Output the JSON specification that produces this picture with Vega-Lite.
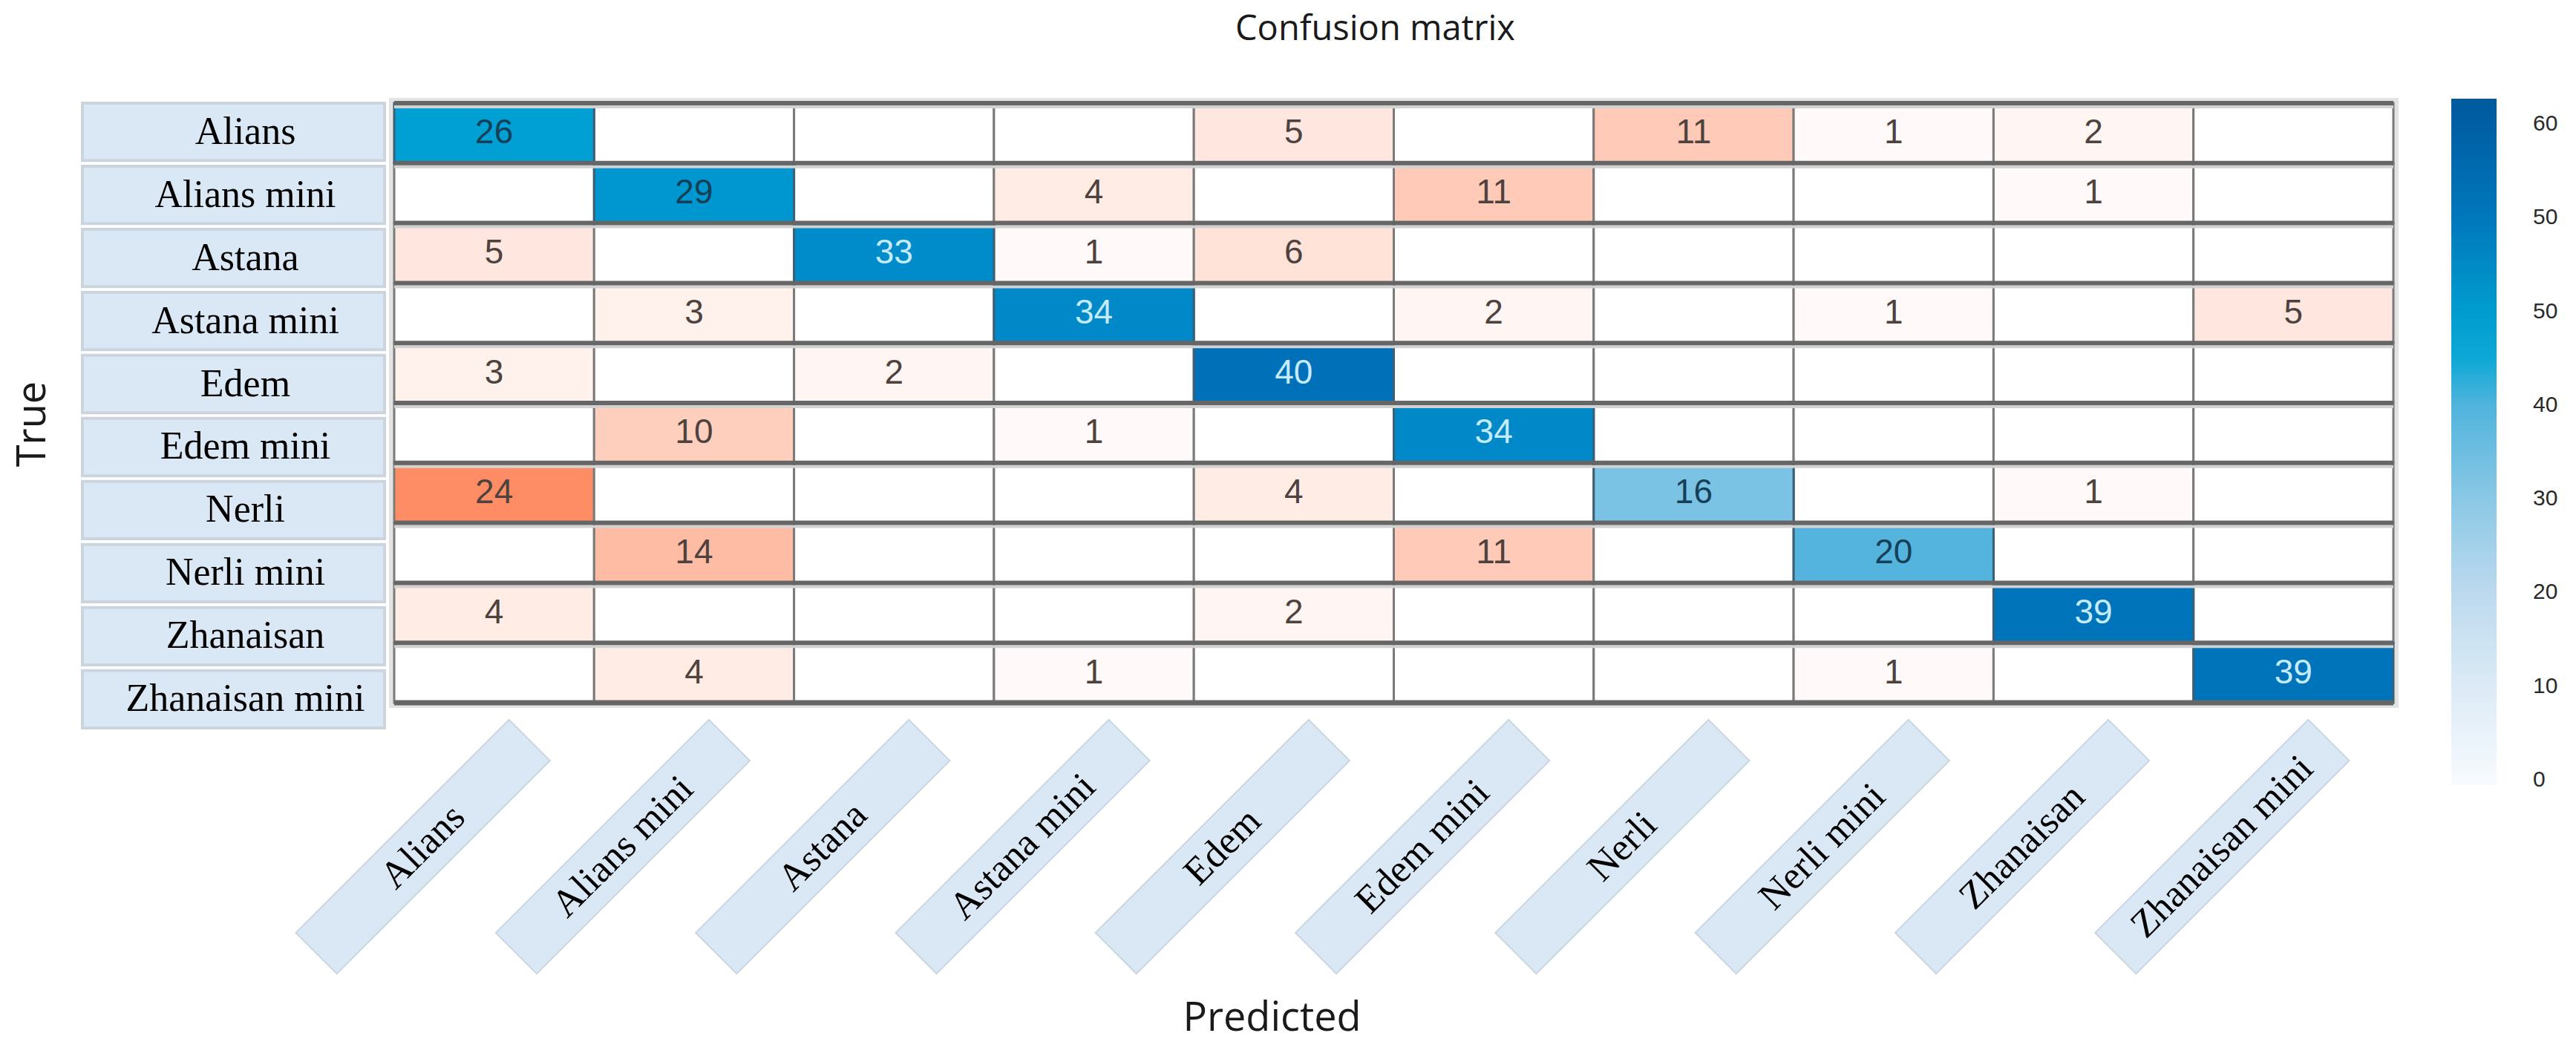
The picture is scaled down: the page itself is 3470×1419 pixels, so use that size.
{
  "$schema": "https://vega.github.io/schema/vega-lite/v6.json",
  "padding": {"left": 17, "top": 16, "right": 0, "bottom": 20},
  "background": "white",
  "title": {"text": "Confusion matrix", "font": "Open Sans", "fontSize": 47, "fontWeight": "normal", "color": "#1a1a1a", "anchor": "start", "frame": "group", "dx": 1553, "offset": 62},
  "config": {"view": {"stroke": null}},
  "datasets": {
    "classes": [
      {"name": "Alians"}, {"name": "Alians mini"}, {"name": "Astana"}, {"name": "Astana mini"}, {"name": "Edem"},
      {"name": "Edem mini"}, {"name": "Nerli"}, {"name": "Nerli mini"}, {"name": "Zhanaisan"}, {"name": "Zhanaisan mini"}
    ],
    "cells": [
      {"actual": "Alians", "predicted": "Alians", "count": 26},
      {"actual": "Alians", "predicted": "Alians mini", "count": 0},
      {"actual": "Alians", "predicted": "Astana", "count": 0},
      {"actual": "Alians", "predicted": "Astana mini", "count": 0},
      {"actual": "Alians", "predicted": "Edem", "count": 5},
      {"actual": "Alians", "predicted": "Edem mini", "count": 0},
      {"actual": "Alians", "predicted": "Nerli", "count": 11},
      {"actual": "Alians", "predicted": "Nerli mini", "count": 1},
      {"actual": "Alians", "predicted": "Zhanaisan", "count": 2},
      {"actual": "Alians", "predicted": "Zhanaisan mini", "count": 0},
      {"actual": "Alians mini", "predicted": "Alians", "count": 0},
      {"actual": "Alians mini", "predicted": "Alians mini", "count": 29},
      {"actual": "Alians mini", "predicted": "Astana", "count": 0},
      {"actual": "Alians mini", "predicted": "Astana mini", "count": 4},
      {"actual": "Alians mini", "predicted": "Edem", "count": 0},
      {"actual": "Alians mini", "predicted": "Edem mini", "count": 11},
      {"actual": "Alians mini", "predicted": "Nerli", "count": 0},
      {"actual": "Alians mini", "predicted": "Nerli mini", "count": 0},
      {"actual": "Alians mini", "predicted": "Zhanaisan", "count": 1},
      {"actual": "Alians mini", "predicted": "Zhanaisan mini", "count": 0},
      {"actual": "Astana", "predicted": "Alians", "count": 5},
      {"actual": "Astana", "predicted": "Alians mini", "count": 0},
      {"actual": "Astana", "predicted": "Astana", "count": 33},
      {"actual": "Astana", "predicted": "Astana mini", "count": 1},
      {"actual": "Astana", "predicted": "Edem", "count": 6},
      {"actual": "Astana", "predicted": "Edem mini", "count": 0},
      {"actual": "Astana", "predicted": "Nerli", "count": 0},
      {"actual": "Astana", "predicted": "Nerli mini", "count": 0},
      {"actual": "Astana", "predicted": "Zhanaisan", "count": 0},
      {"actual": "Astana", "predicted": "Zhanaisan mini", "count": 0},
      {"actual": "Astana mini", "predicted": "Alians", "count": 0},
      {"actual": "Astana mini", "predicted": "Alians mini", "count": 3},
      {"actual": "Astana mini", "predicted": "Astana", "count": 0},
      {"actual": "Astana mini", "predicted": "Astana mini", "count": 34},
      {"actual": "Astana mini", "predicted": "Edem", "count": 0},
      {"actual": "Astana mini", "predicted": "Edem mini", "count": 2},
      {"actual": "Astana mini", "predicted": "Nerli", "count": 0},
      {"actual": "Astana mini", "predicted": "Nerli mini", "count": 1},
      {"actual": "Astana mini", "predicted": "Zhanaisan", "count": 0},
      {"actual": "Astana mini", "predicted": "Zhanaisan mini", "count": 5},
      {"actual": "Edem", "predicted": "Alians", "count": 3},
      {"actual": "Edem", "predicted": "Alians mini", "count": 0},
      {"actual": "Edem", "predicted": "Astana", "count": 2},
      {"actual": "Edem", "predicted": "Astana mini", "count": 0},
      {"actual": "Edem", "predicted": "Edem", "count": 40},
      {"actual": "Edem", "predicted": "Edem mini", "count": 0},
      {"actual": "Edem", "predicted": "Nerli", "count": 0},
      {"actual": "Edem", "predicted": "Nerli mini", "count": 0},
      {"actual": "Edem", "predicted": "Zhanaisan", "count": 0},
      {"actual": "Edem", "predicted": "Zhanaisan mini", "count": 0},
      {"actual": "Edem mini", "predicted": "Alians", "count": 0},
      {"actual": "Edem mini", "predicted": "Alians mini", "count": 10},
      {"actual": "Edem mini", "predicted": "Astana", "count": 0},
      {"actual": "Edem mini", "predicted": "Astana mini", "count": 1},
      {"actual": "Edem mini", "predicted": "Edem", "count": 0},
      {"actual": "Edem mini", "predicted": "Edem mini", "count": 34},
      {"actual": "Edem mini", "predicted": "Nerli", "count": 0},
      {"actual": "Edem mini", "predicted": "Nerli mini", "count": 0},
      {"actual": "Edem mini", "predicted": "Zhanaisan", "count": 0},
      {"actual": "Edem mini", "predicted": "Zhanaisan mini", "count": 0},
      {"actual": "Nerli", "predicted": "Alians", "count": 24},
      {"actual": "Nerli", "predicted": "Alians mini", "count": 0},
      {"actual": "Nerli", "predicted": "Astana", "count": 0},
      {"actual": "Nerli", "predicted": "Astana mini", "count": 0},
      {"actual": "Nerli", "predicted": "Edem", "count": 4},
      {"actual": "Nerli", "predicted": "Edem mini", "count": 0},
      {"actual": "Nerli", "predicted": "Nerli", "count": 16},
      {"actual": "Nerli", "predicted": "Nerli mini", "count": 0},
      {"actual": "Nerli", "predicted": "Zhanaisan", "count": 1},
      {"actual": "Nerli", "predicted": "Zhanaisan mini", "count": 0},
      {"actual": "Nerli mini", "predicted": "Alians", "count": 0},
      {"actual": "Nerli mini", "predicted": "Alians mini", "count": 14},
      {"actual": "Nerli mini", "predicted": "Astana", "count": 0},
      {"actual": "Nerli mini", "predicted": "Astana mini", "count": 0},
      {"actual": "Nerli mini", "predicted": "Edem", "count": 0},
      {"actual": "Nerli mini", "predicted": "Edem mini", "count": 11},
      {"actual": "Nerli mini", "predicted": "Nerli", "count": 0},
      {"actual": "Nerli mini", "predicted": "Nerli mini", "count": 20},
      {"actual": "Nerli mini", "predicted": "Zhanaisan", "count": 0},
      {"actual": "Nerli mini", "predicted": "Zhanaisan mini", "count": 0},
      {"actual": "Zhanaisan", "predicted": "Alians", "count": 4},
      {"actual": "Zhanaisan", "predicted": "Alians mini", "count": 0},
      {"actual": "Zhanaisan", "predicted": "Astana", "count": 0},
      {"actual": "Zhanaisan", "predicted": "Astana mini", "count": 0},
      {"actual": "Zhanaisan", "predicted": "Edem", "count": 2},
      {"actual": "Zhanaisan", "predicted": "Edem mini", "count": 0},
      {"actual": "Zhanaisan", "predicted": "Nerli", "count": 0},
      {"actual": "Zhanaisan", "predicted": "Nerli mini", "count": 0},
      {"actual": "Zhanaisan", "predicted": "Zhanaisan", "count": 39},
      {"actual": "Zhanaisan", "predicted": "Zhanaisan mini", "count": 0},
      {"actual": "Zhanaisan mini", "predicted": "Alians", "count": 0},
      {"actual": "Zhanaisan mini", "predicted": "Alians mini", "count": 4},
      {"actual": "Zhanaisan mini", "predicted": "Astana", "count": 0},
      {"actual": "Zhanaisan mini", "predicted": "Astana mini", "count": 1},
      {"actual": "Zhanaisan mini", "predicted": "Edem", "count": 0},
      {"actual": "Zhanaisan mini", "predicted": "Edem mini", "count": 0},
      {"actual": "Zhanaisan mini", "predicted": "Nerli", "count": 0},
      {"actual": "Zhanaisan mini", "predicted": "Nerli mini", "count": 1},
      {"actual": "Zhanaisan mini", "predicted": "Zhanaisan", "count": 0},
      {"actual": "Zhanaisan mini", "predicted": "Zhanaisan mini", "count": 39}
    ]
  },
  "bounds": "flush",
  "spacing": 13,
  "hconcat": [
    {
      "width": 407,
      "height": 842,
      "data": {"name": "classes"},
      "encoding": {
        "y": {"field": "name", "type": "nominal", "sort": null,
          "scale": {"domain": ["Alians", "Alians mini", "Astana", "Astana mini", "Edem", "Edem mini", "Nerli", "Nerli mini", "Zhanaisan", "Zhanaisan mini"], "paddingInner": 0.09, "paddingOuter": 0},
          "axis": {"title": "True", "labels": false, "ticks": false, "domain": false, "grid": false, "titleFont": "Open Sans", "titleFontSize": 54, "titleFontWeight": "normal", "titleColor": "#1a1a1a", "titlePadding": 40, "titleY": 432}}
      },
      "layer": [
        {"mark": {"type": "rect", "fill": "#dae8f5", "stroke": "#ccd5de", "strokeWidth": 4}, "encoding": {"x": {"value": 0}, "x2": {"value": "width"}}},
        {"mark": {"type": "text", "font": "Liberation Serif", "fontSize": 52, "color": "#000000", "xOffset": 16}, "encoding": {"text": {"field": "name", "type": "nominal"}}}
      ]
    },
    {
      "bounds": "flush",
      "spacing": 0,
      "vconcat": [
        {
          "width": 2693,
          "height": 808,
          "view": {"stroke": "#e3e3e3", "strokeWidth": 14},
          "data": {"name": "cells"},
          "layer": [
            {
              "transform": [{"filter": "datum.actual !== datum.predicted"}],
              "mark": {"type": "rect", "stroke": "#7a7a7a", "strokeWidth": 3},
              "encoding": {
                "x": {"field": "predicted", "type": "nominal", "sort": null, "scale": {"domain": ["Alians", "Alians mini", "Astana", "Astana mini", "Edem", "Edem mini", "Nerli", "Nerli mini", "Zhanaisan", "Zhanaisan mini"], "paddingInner": 0, "paddingOuter": 0}, "axis": null},
                "y": {"field": "actual", "type": "nominal", "sort": null, "scale": {"domain": ["Alians", "Alians mini", "Astana", "Astana mini", "Edem", "Edem mini", "Nerli", "Nerli mini", "Zhanaisan", "Zhanaisan mini"], "paddingInner": 0, "paddingOuter": 0}, "axis": null},
                "color": {"field": "count", "type": "quantitative", "scale": {"domain": [0, 24], "range": ["#ffffff", "#fe8c64"], "interpolate": "rgb"}, "legend": null}
              }
            },
            {
              "transform": [{"filter": "datum.actual === datum.predicted"}],
              "mark": {"type": "rect", "stroke": "#3b5f74", "strokeWidth": 3},
              "encoding": {
                "x": {"field": "predicted", "type": "nominal", "sort": null, "axis": null},
                "y": {"field": "actual", "type": "nominal", "sort": null, "axis": null},
                "color": {"field": "count", "type": "quantitative", "scale": {"domain": [16, 20, 26, 34, 40], "range": ["#7bc3e5", "#55b4de", "#00a0d5", "#0088c8", "#0070b8"], "interpolate": "rgb"}, "legend": null}
              }
            },
            {
              "transform": [{"filter": "datum.actual === datum.predicted"}],
              "mark": {"type": "rect", "fillOpacity": 0, "strokeOpacity": 0},
              "encoding": {
                "x": {"field": "predicted", "type": "nominal", "sort": null, "axis": null},
                "y": {"field": "actual", "type": "nominal", "sort": null, "axis": null},
                "color": {"field": "count", "type": "quantitative",
                  "scale": {"domain": [-0.55, 10, 20, 30, 40, 46, 50, 60, 70, 72.7], "range": ["#f8fbfe", "#dceaf6", "#bcd9ee", "#8ac8e5", "#50b4dc", "#00a6d5", "#009ccf", "#0077bb", "#005ea4", "#005a9e"], "interpolate": "rgb"},
                  "legend": {"orient": "none", "legendX": 2771, "legendY": -6, "direction": "vertical", "gradientLength": 925, "gradientThickness": 61, "gradientStrokeWidth": 0, "values": [0, 10, 20, 30, 40, 50, 60, 70], "labelExpr": "datum.value == 70 ? '60' : datum.value == 60 ? '50' : datum.label", "title": null, "labelFont": "Liberation Sans", "labelFontSize": 30, "labelColor": "#2a2a2a", "labelOffset": 49}}
              }
            },
            {
              "data": {"name": "classes"},
              "mark": {"type": "rule", "color": "#d2d2d2", "strokeWidth": 4, "yOffset": 5},
              "encoding": {"y": {"field": "name", "type": "nominal", "sort": null, "bandPosition": 0, "axis": null}}
            },
            {
              "data": {"name": "classes"},
              "mark": {"type": "rule", "color": "#666666", "strokeWidth": 6},
              "encoding": {"y": {"field": "name", "type": "nominal", "sort": null, "bandPosition": 0, "axis": null}}
            },
            {
              "data": {"name": "classes"},
              "transform": [{"filter": "datum.name === 'Zhanaisan mini'"}],
              "mark": {"type": "rule", "color": "#666666", "strokeWidth": 7},
              "encoding": {"y": {"field": "name", "type": "nominal", "sort": null, "bandPosition": 1, "axis": null}}
            },
            {
              "transform": [{"filter": "datum.count > 0"}],
              "mark": {"type": "text", "font": "Liberation Sans Narrow, Liberation Sans", "fontSize": 46},
              "encoding": {
                "x": {"field": "predicted", "type": "nominal", "sort": null, "axis": null},
                "y": {"field": "actual", "type": "nominal", "sort": null, "axis": null},
                "text": {"field": "count", "type": "quantitative"},
                "color": {"condition": [{"test": "datum.actual === datum.predicted && datum.count >= 30", "value": "#c4ebff"}, {"test": "datum.actual === datum.predicted", "value": "#163f58"}], "value": "#4e423e"}
              }
            }
          ],
          "resolve": {"scale": {"color": "independent"}}
        },
        {
          "width": 2693,
          "height": 388,
          "data": {"name": "classes"},
          "encoding": {
            "x": {"field": "name", "type": "nominal", "sort": null,
              "scale": {"type": "band", "domain": ["Alians", "Alians mini", "Astana", "Astana mini", "Edem", "Edem mini", "Nerli", "Nerli mini", "Zhanaisan", "Zhanaisan mini"], "paddingInner": 0, "paddingOuter": 0},
              "axis": {"title": "Predicted", "labels": false, "ticks": false, "domain": false, "grid": false, "titleFont": "Open Sans", "titleFontSize": 54, "titleFontWeight": "normal", "titleColor": "#1a1a1a", "titlePadding": 10, "titleX": 1182}}
          },
          "layer": [
            {"mark": {"type": "point", "shape": "M-1,-0.192L1,-0.192L1,0.192L-1,0.192Z", "size": 164836, "angle": -45, "filled": true, "fill": "#dae8f5", "stroke": "#c9d6e2", "strokeWidth": 2, "opacity": 1, "xOffset": -96}},
            {"mark": {"type": "text", "angle": -45, "font": "Liberation Serif", "fontSize": 52, "color": "#000000", "xOffset": -96}, "encoding": {"text": {"field": "name", "type": "nominal"}}}
          ]
        }
      ]
    }
  ]
}
